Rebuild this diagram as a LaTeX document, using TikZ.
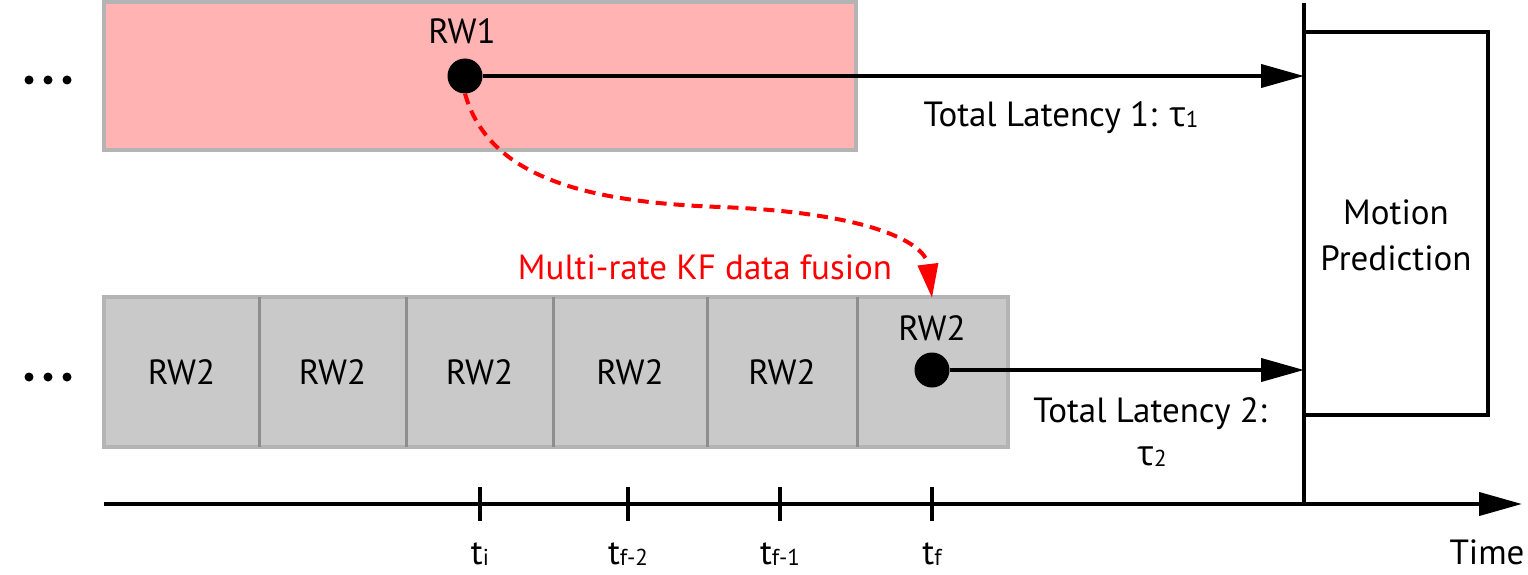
\documentclass[tikz,border=0pt]{standalone}
\usepackage{fontspec}
\setmainfont{PT Sans}
\newfontfamily\grfont{Open Sans}
\usetikzlibrary{arrows.meta}
\definecolor{pinkfill}{HTML}{FFB3B3}
\definecolor{boxgray}{HTML}{C9C9C9}
\definecolor{edgegray}{HTML}{B4B4B4}
\definecolor{divgray}{HTML}{8E8E8E}
\definecolor{fusered}{HTML}{FF0000}
\newcommand{\mysub}[1]{\raisebox{-1pt}{\fontsize{23}{23}\selectfont #1}}
\begin{document}
\begin{tikzpicture}[x=1pt,y=-1pt,
  lbl/.style={font=\fontsize{35}{45}\selectfont, inner sep=0pt, anchor=base},
  bigdot/.style={circle, fill=black, minimum size=35pt, inner sep=0pt},
  smalldot/.style={circle, fill=black, minimum size=9pt, inner sep=0pt},
  flow/.style={line width=4pt, -{Triangle[length=43pt,width=23pt]}},
  rwbox/.style={rectangle, fill=boxgray, minimum height=150pt, inner sep=0pt, outer sep=0pt, font=\fontsize{35}{45}\selectfont},
  divider/.style={divgray, line width=3pt},
  tickmark/.style={line width=3.5pt}
]
\useasboundingbox (0,0) rectangle (1528,575);

% ellipsis dots
\foreach \i/\x in {1/29,2/48,3/67}{
  \node[smalldot] (ua\i) at (\x,80) {};
  \node[smalldot] (la\i) at (\x,377) {};
}

% RW1 box
\node[rectangle, fill=pinkfill, draw=edgegray, line width=4pt, minimum width=752pt, minimum height=148pt, inner sep=0pt, outer sep=0pt] (rw1box) at (480,76) {};
\node[lbl] (rw1lbl) at (462,44) {RW1};
\node[bigdot] (rw1dot) at (465,76) {};

% RW2 row
\node[rwbox, minimum width=155pt] (b1) at (181.5,372) {RW2};
\node[rwbox, minimum width=147pt] (b2) at (332.5,372) {RW2};
\node[rwbox, minimum width=147pt] (b3) at (479.5,372) {RW2};
\node[rwbox, minimum width=154pt] (b4) at (630,372) {RW2};
\node[rwbox, minimum width=150pt] (b5) at (782,372) {RW2};
\node[rwbox, minimum width=151pt] (b6) at (932.5,372) {};
\draw[edgegray, line width=4pt] (b1.north west) rectangle (b6.south east);
\foreach \b in {b1,b2,b3,b4,b5}{
  \draw[divider] (\b.north east) -- (\b.south east);
}
\node[lbl] (rw2lbl) at (932,340) {RW2};
\node[bigdot] (rw2dot) at (932,370) {};

% Motion prediction
\coordinate (nowtop) at (1304,3);
\coordinate (nowbot) at (1304,504);
\node[draw, line width=4pt, minimum width=184pt, minimum height=383pt, inner sep=0pt, outer sep=0pt] (mp) at (1396,223.5) {};
\draw[line width=4pt] (nowtop) -- (nowbot);
\node[lbl] (mp1) at (1396,224) {Motion};
\node[lbl] (mp2) at (1396,270) {Prediction};

% latency arrows
\draw[flow] (rw1dot.east) -- (rw1dot -| mp.west);
\draw[flow] (rw2dot.east) -- (rw2dot -| mp.west);
\node[lbl] (lat1) at (1061,127) {Total Latency 1: {\grfont τ}\mysub{1}};
\node[lbl] (lat2) at (1150,422) {Total Latency 2:};
\node[lbl] (lat2b) at (1152,465) {{\grfont τ}\mysub{2}};

% fusion arrow
\coordinate (fusetip) at (932,298);
\draw[fusered, line width=4pt, dash pattern=on 11pt off 7pt, -{Triangle[length=34pt,width=20pt]}]
  (rw1dot.south) .. controls (488,175) and (580,202) .. (720,207)
  .. controls (860,212) and (925,240) .. (fusetip);
\node[lbl, text=fusered] (fuselbl) at (705,279) {Multi-rate KF data fusion};

% time axis
\coordinate (axs) at (104,504);
\coordinate (axe) at (1522,504);
\draw[flow] (axs) -- (axe);
\foreach \n/\x in {1/480,2/628,3/780,4/932}{
  \coordinate (tk\n) at (\x,504);
  \draw[tickmark] ([yshift=17pt]tk\n) -- ([yshift=-17pt]tk\n);
}
\node[lbl] (tl1) at (480,564) {t\mysub{i}};
\node[lbl] (tl2) at (628,564) {t\mysub{f-2}};
\node[lbl] (tl3) at (780,564) {t\mysub{f-1}};
\node[lbl] (tl4) at (932,564) {t\mysub{f}};
\node[lbl] (timelbl) at (1487,564) {Time};
\end{tikzpicture}
\end{document}
